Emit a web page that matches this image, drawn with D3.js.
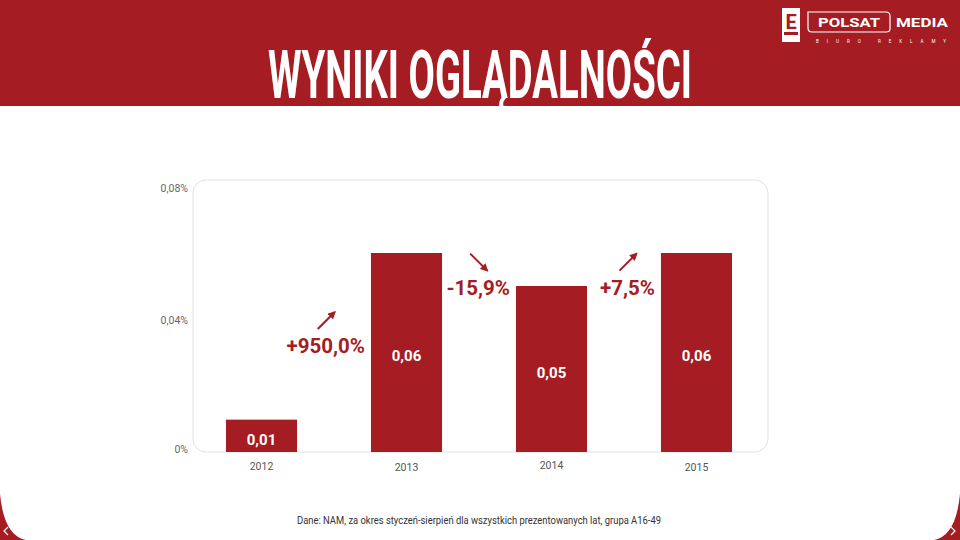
<!DOCTYPE html>
<html><head><meta charset="utf-8">
<script src="https://cdn.jsdelivr.net/npm/d3@7"></script>
<style>
html,body{margin:0;padding:0;background:#fff;}
svg{display:block;font-family:Roboto,"Noto Sans",sans-serif;}
</style></head>
<body>
<svg id="c" width="960" height="540"></svg>
<script>
const years = ["2012","2013","2014","2015"];
const values = [0.0095, 0.06, 0.05, 0.06];
const valueLabels = ["0,01","0,06","0,05","0,06"];
const changeLabels = ["+950,0%","-15,9%","+7,5%"];
const yTicks = [0, 0.04, 0.08];
const yTickLabels = ["0%","0,04%","0,08%"];
const title = "WYNIKI OGLĄDALNOŚCI";
const note = "Dane: NAM, za okres styczeń-sierpień dla wszystkich prezentowanych lat, grupa A16-49";

const RED = "#a51c22";
const svg = d3.select("#c");

// header
svg.append("rect").attr("x",0).attr("y",0).attr("width",960).attr("height",106).attr("fill",RED);
svg.append("text").attr("x",268).attr("y",98).attr("fill","#fff")
  .attr("font-family","Roboto,sans-serif")
  .attr("font-weight","bold").attr("font-size",66)
  .attr("textLength",424).attr("lengthAdjust","spacingAndGlyphs")
  .text(title);

// logos
const lg = svg.append("g");
lg.append("rect").attr("x",782).attr("y",8).attr("width",18).attr("height",34).attr("fill","#fff");
lg.append("text").attr("x",791).attr("y",29).attr("text-anchor","middle").attr("fill",RED)
  .attr("font-weight","bold").attr("font-size",20).text("E");
lg.append("rect").attr("x",784).attr("y",32).attr("width",14).attr("height",3).attr("fill",RED);
lg.append("path").attr("d","M808,12 L886,12 Q890,12 890,16 L890,29 Q890,32 886,32 L812,32 Q808,32 808,28 Z")
  .attr("fill","none").attr("stroke","#fff").attr("stroke-width",1.2);
lg.append("text").attr("x",849).attr("y",27).attr("text-anchor","middle").attr("fill","#fff")
  .attr("font-weight","bold").attr("font-size",13).attr("textLength",62).attr("lengthAdjust","spacingAndGlyphs").text("POLSAT");
lg.append("text").attr("x",922).attr("y",27).attr("text-anchor","middle").attr("fill","#fff")
  .attr("font-weight","bold").attr("font-size",13).attr("textLength",52).attr("lengthAdjust","spacingAndGlyphs").text("MEDIA");
lg.append("text").attr("x",816).attr("y",43).attr("fill","#fff").attr("font-size",4.5)
  .attr("textLength",130).attr("lengthAdjust","spacing").text("BIURO REKLAMY");

// chart
const y = d3.scaleLinear().domain([0,0.08]).range([451,187]);
const x = d3.scaleBand().domain(years).range([189,769]).paddingInner(0.51).paddingOuter(0.255);

svg.append("rect").attr("x",193).attr("y",180).attr("width",575).attr("height",272).attr("rx",13)
  .attr("fill","#fff").attr("stroke","#e1e1e1").attr("stroke-width",1);

// y axis labels
svg.append("g").selectAll("text").data(yTicks).join("text")
  .attr("x",188).attr("y",d=>y(d)+(d===0?-2:1)).attr("dy","0.35em")
  .attr("text-anchor","end").attr("fill","#666").attr("font-size",10.5)
  .text((d,i)=>yTickLabels[i]);

// bars
svg.append("g").selectAll("rect").data(values).join("rect")
  .attr("x",(d,i)=>x(years[i])).attr("width",x.bandwidth())
  .attr("y",d=>y(d)).attr("height",d=>y(0)+1-y(d)).attr("fill",RED);

// value labels
svg.append("g").selectAll("text").data(values).join("text")
  .attr("x",(d,i)=>x(years[i])+x.bandwidth()/2)
  .attr("y",d=>(y(d)+y(0))/2+4).attr("dy","0.35em")
  .attr("text-anchor","middle").attr("fill","#fff").attr("font-weight","bold").attr("font-size",15)
  .text((d,i)=>valueLabels[i]);

// x labels
const xOff=[0,1,-1,1];
svg.append("g").selectAll("text").data(years).join("text")
  .attr("x",d=>x(d)+x.bandwidth()/2).attr("y",(d,i)=>466+xOff[i]).attr("dy","0.35em")
  .attr("text-anchor","middle").attr("fill","#555").attr("font-size",10.5).text(d=>d);

// change annotations
svg.append("defs").append("marker").attr("id","ah").attr("viewBox","0 0 10 10")
  .attr("refX",8).attr("refY",5).attr("markerWidth",4).attr("markerHeight",4).attr("orient","auto")
  .append("path").attr("d","M0,0 L10,5 L0,10 Z").attr("fill",RED);
const annLevel = [0.0318, 0.0495, 0.0495];
const ag = svg.append("g");
changeLabels.forEach((t,i)=>{
  const right = x(years[i+1]) - 6;
  const ty = y(annLevel[i]);
  const tx = ag.append("text").attr("x",right).attr("y",ty).attr("dy","0.35em")
    .attr("text-anchor","end").attr("fill",RED).attr("font-weight","bold").attr("font-size",20.5).text(t);
  const w = tx.node().getComputedTextLength();
  const cx = right - w/2;
  const up = values[i+1] >= values[i];
  const top = ty - 34, bot = ty - 17;
  if (up) {
    ag.append("line").attr("x1",cx-8).attr("y1",bot).attr("x2",cx+9).attr("y2",top)
      .attr("stroke",RED).attr("stroke-width",2).attr("marker-end","url(#ah)");
  } else {
    ag.append("line").attr("x1",cx-8).attr("y1",top).attr("x2",cx+9).attr("y2",bot)
      .attr("stroke",RED).attr("stroke-width",2).attr("marker-end","url(#ah)");
  }
});

// footnote
svg.append("text").attr("x",479).attr("y",520).attr("dy","0.35em").attr("text-anchor","middle")
  .attr("fill","#333").attr("font-size",11).attr("textLength",364).attr("lengthAdjust","spacingAndGlyphs").text(note);

// bottom corner decorations
svg.append("path").attr("d","M0,494 Q4,536 26,540 L0,540 Z").attr("fill",RED);
svg.append("path").attr("d","M960,494 Q956,536 934,540 L960,540 Z").attr("fill",RED);
svg.append("path").attr("d","M8,527 L4,531 L8,535").attr("fill","none").attr("stroke","#fff").attr("stroke-width",1.2);
svg.append("path").attr("d","M951,527 L955,531 L951,535").attr("fill","none").attr("stroke","#fff").attr("stroke-width",1.2);
</script>
</body></html>
